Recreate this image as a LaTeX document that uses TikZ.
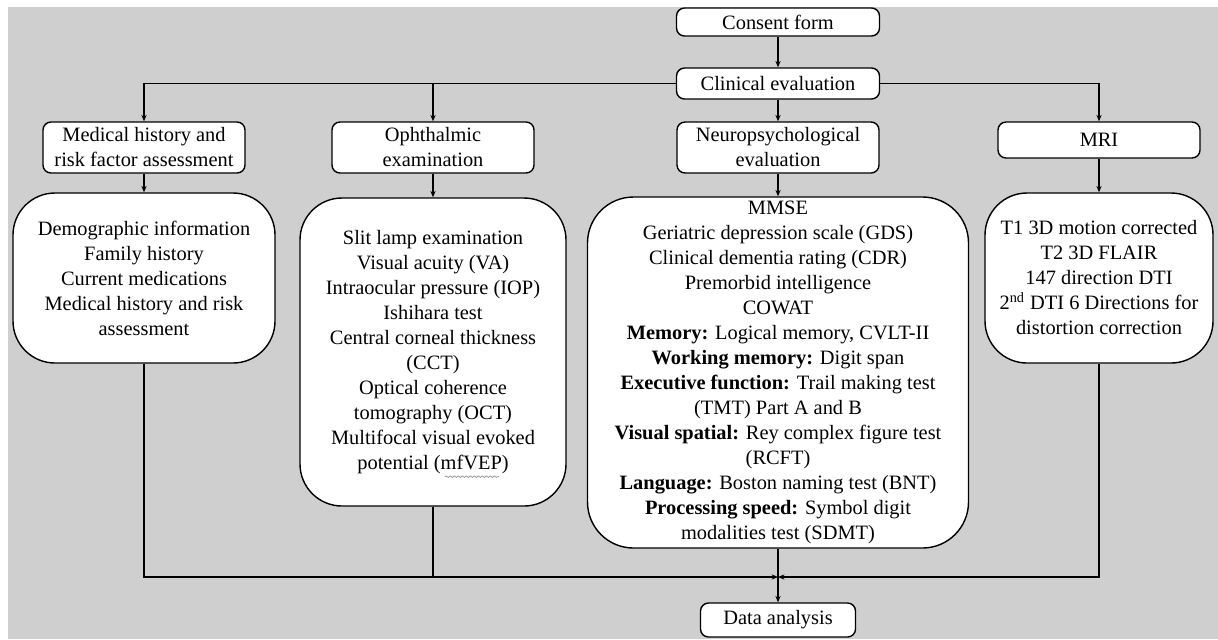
\documentclass[tikz,border=0pt]{standalone}
\usepackage{fontspec}
\setmainfont{Liberation Serif}
\usetikzlibrary{arrows.meta, positioning, calc, decorations.pathmorphing}
\definecolor{bggray}{RGB}{207,207,207}

\begin{document}
\begin{tikzpicture}[
    x=0.5pt, y=-0.5pt,
    font=\fontsize{10.2}{12.5}\selectfont,
    box/.style={rectangle, draw, rounded corners=4pt, line width=0.7pt, fill=white, align=center, inner sep=0pt},
    head/.style={box, minimum width=101pt, minimum height=25.5pt},
    body/.style={box, rounded corners=21pt},
    arrow/.style={-{Stealth[length=3.2pt, width=2.6pt]}, line width=0.6pt},
    link/.style={line width=0.6pt}
]

    % Background
    \useasboundingbox (0,0) rectangle (1218,639);
    \fill[white] (0,0) rectangle (1218,639);
    \fill[bggray] (8,7) rectangle (1218,639);

    % --- Top ---
    \node[box, minimum width=101.5pt, minimum height=14pt] (consent) at (778,22) {Consent form};
    \node[box, minimum width=101.5pt, minimum height=15.5pt] (clinical) at (778,83.5) {Clinical evaluation};

    % --- Headers ---
    \node[head] (medhead) at (144,147.5) {Medical history and\\risk factor assessment};
    \node[head] (ophhead) at (433,147.5) {Ophthalmic\\examination};
    \node[head] (neurohead) at (778,147.5) {Neuropsychological\\evaluation};
    \node[head, minimum height=18pt] (mrihead) at (1099,140) {MRI};

    % --- Contents ---
    \node[body, minimum width=131pt, minimum height=85pt] (medbody) at (144,278) {%
        Demographic information\\Family history\\Current medications\\Medical history and risk\\assessment};
    \node[body, minimum width=133pt, minimum height=154pt] (ophbody) at (433,352) {%
        Slit lamp examination\\Visual acuity (VA)\\Intraocular pressure (IOP)\\Ishihara test\\
        Central corneal thickness\\(CCT)\\Optical coherence\\tomography (OCT)\\
        Multifocal visual evoked\\potential (mfVEP)};
    \node[body, rounded corners=23pt, minimum width=190.5pt, minimum height=175.5pt] (neurobody) at (778,372.5) {%
        MMSE\\Geriatric depression scale (GDS)\\Clinical dementia rating (CDR)\\Premorbid intelligence\\COWAT\\
        \textbf{Memory:} Logical memory, CVLT-II\\
        \textbf{Working memory:} Digit span\\
        \textbf{Executive function:} Trail making test\\(TMT) Part A and B\\
        \textbf{Visual spatial:} Rey complex figure test\\(RCFT)\\
        \textbf{Language:} Boston naming test (BNT)\\
        \textbf{Processing speed:} Symbol digit\\modalities test (SDMT)};
    \node[body, minimum width=114pt, minimum height=85pt] (mribody) at (1099,278) {%
        T1 3D motion corrected\\T2 3D FLAIR\\147 direction DTI\\2\textsuperscript{nd} DTI 6 Directions for\\distortion correction};

    % spell-check squiggle under mfVEP
    \draw[gray, line width=0.3pt, decorate, decoration={snake, amplitude=0.4pt, segment length=2pt}]
        ($(ophbody.south)+(12,-30)$) -- ($(ophbody.south)+(66,-30)$);

    % --- Bottom ---
    \node[box, minimum width=77.5pt, minimum height=17pt] (data) at (778,620) {Data analysis};
    \coordinate (join) at (778,577);

    % --- Arrows ---
    \draw[arrow] (consent) -- (clinical);
    \draw[arrow] (clinical.west) -| (medhead.north);
    \draw[arrow] (clinical.west -| ophhead.north) -- (ophhead.north);
    \draw[arrow] (clinical) -- (neurohead);
    \draw[arrow] (clinical.east) -| (mrihead.north);

    \foreach \n in {med, oph, neuro, mri} {
        \draw[arrow] (\n head) -- (\n body);
    }

    \draw[arrow] (medbody.south) |- (join);
    \draw[link] (ophbody.south) -- (ophbody.south |- join);
    \draw[arrow] (mribody.south) |- (join);
    \draw[link] (neurobody) -- (join);
    \draw[arrow] (join) -- (data);

\end{tikzpicture}
\end{document}
